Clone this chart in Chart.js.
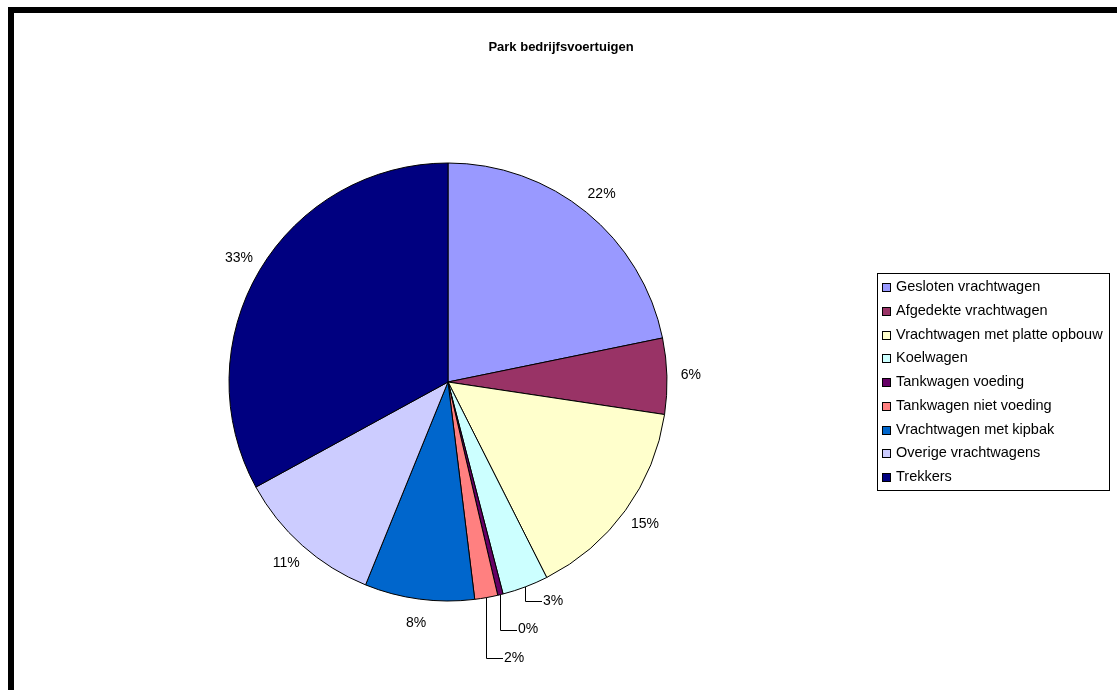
<!DOCTYPE html>
<html>
<head>
<meta charset="utf-8">
<script src="https://cdn.jsdelivr.net/npm/chart.js@4.4.0/dist/chart.umd.min.js"></script>
<style>
html, body { margin:0; padding:0; background:#fff; }
#wrap { position:relative; width:1117px; height:690px; overflow:hidden; }
#c { position:absolute; left:0; top:0; }
.frameTop { position:absolute; left:8px; top:7px; width:1109px; height:6px; background:#000; }
.frameLeft { position:absolute; left:8px; top:7px; width:6px; height:683px; background:#000; }
</style>
</head>
<body>
<div id="wrap">
  <canvas id="c" width="1117" height="690"></canvas>
  <div class="frameTop"></div>
  <div class="frameLeft"></div>
</div>
<script>
// data (share of the park, in %)
const chartTitle = 'Park bedrijfsvoertuigen';
const categories = [
  'Gesloten vrachtwagen',
  'Afgedekte vrachtwagen',
  'Vrachtwagen met platte opbouw',
  'Koelwagen',
  'Tankwagen voeding',
  'Tankwagen niet voeding',
  'Vrachtwagen met kipbak',
  'Overige vrachtwagens',
  'Trekkers'
];
const shares = [21.8, 5.6, 15.2, 3.4, 0.4, 1.7, 8.1, 10.9, 33.0];
const sliceColors = ['#9999FF','#993366','#FFFFCC','#CCFFFF','#660066','#FF8080','#0066CC','#CCCCFF','#000080'];

const FONT = '"Liberation Sans", Arial, sans-serif';

// percentages, title and legend drawn the excel way
const excelDecor = {
  id: 'excelDecor',
  afterDatasetsDraw(chart){
    const ctx = chart.ctx;
    const meta = chart.getDatasetMeta(0);
    const total = shares.reduce((a,b)=>a+b,0);
    ctx.save();
    ctx.font = '14px ' + FONT;
    ctx.fillStyle = '#000';
    ctx.strokeStyle = '#000';
    ctx.lineWidth = 1;
    let row = 0;
    meta.data.forEach((arc, i)=>{
      const p = arc.getProps(['x','y','startAngle','endAngle','outerRadius'], true);
      const mid = (p.startAngle + p.endAngle)/2;
      const txt = Math.round(shares[i]/total*100) + '%';
      if(shares[i] < 5){
        // small slices: leader line down, label to the right
        const ax = p.x + Math.cos(mid)*p.outerRadius;
        const ay = p.y + Math.sin(mid)*p.outerRadius;
        const ry = p.y + p.outerRadius + row*28.5;
        ctx.beginPath();
        ctx.moveTo(Math.round(ax)+0.5, ay);
        ctx.lineTo(Math.round(ax)+0.5, Math.round(ry)+0.5);
        ctx.lineTo(Math.round(ax)+17, Math.round(ry)+0.5);
        ctx.stroke();
        ctx.textAlign = 'left';
        ctx.textBaseline = 'middle';
        ctx.fillText(txt, Math.round(ax)+18, ry);
        row++;
      } else {
        const d = p.outerRadius + 24;
        ctx.textAlign = 'center';
        ctx.textBaseline = 'middle';
        ctx.fillText(txt, p.x + Math.cos(mid)*d, p.y + Math.sin(mid)*d);
      }
    });

    // title
    ctx.font = 'bold 13px ' + FONT;
    ctx.textAlign = 'center';
    ctx.textBaseline = 'middle';
    ctx.fillText(chartTitle, 561, 47);

    // legend box
    ctx.strokeStyle = '#000';
    ctx.strokeRect(877.5, 273.5, 232, 217);
    ctx.font = '14.5px ' + FONT;
    ctx.textAlign = 'left';
    categories.forEach((name, i)=>{
      const y = 287 + i*23.75;
      ctx.fillStyle = sliceColors[i];
      ctx.fillRect(882, Math.round(y)-4, 9, 9);
      ctx.strokeStyle = '#000';
      ctx.strokeRect(882.5, Math.round(y)-3.5, 8, 8);
      ctx.fillStyle = '#000';
      ctx.fillText(name, 896, y);
    });
    ctx.restore();
  }
};

new Chart(document.getElementById('c'), {
  type: 'pie',
  data: {
    labels: categories,
    datasets: [{
      data: shares,
      backgroundColor: sliceColors,
      borderColor: '#000',
      borderWidth: 1
    }]
  },
  options: {
    responsive: false,
    animation: false,
    radius: 219,
    layout: { padding: { left: 40, right: 261, top: 92, bottom: 18 } },
    plugins: {
      legend: { display: false },
      title: { display: false },
      tooltip: { enabled: false }
    }
  },
  plugins: [excelDecor]
});
</script>
</body>
</html>
